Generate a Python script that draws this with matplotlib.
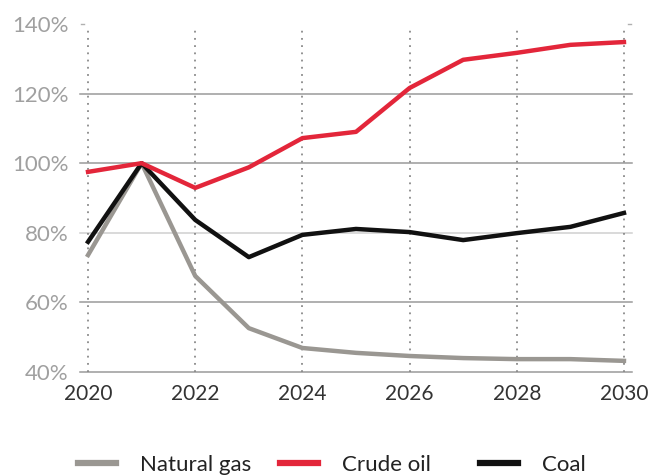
import matplotlib
matplotlib.use("Agg")
import matplotlib.pyplot as plt

years = [2020, 2021, 2022, 2023, 2024, 2025, 2026, 2027, 2028, 2029, 2030]
natural_gas = [73.6, 100, 67.6, 52.6, 46.9, 45.5, 44.6, 44.0, 43.7, 43.7, 43.2]
crude_oil = [97.5, 100, 92.9, 98.8, 107.2, 109.0, 121.6, 129.7, 131.7, 134.0, 134.8]
coal = [77.4, 100, 83.7, 73.0, 79.4, 81.1, 80.2, 77.9, 79.9, 81.7, 85.7]
x_ticks = [2020, 2022, 2024, 2026, 2028, 2030]
y_ticks = [40, 60, 80, 100, 120, 140]
y_labels = ["40%", "60%", "80%", "100%", "120%", "140%"]

plt.rcParams['font.family'] = ['Lato', 'DejaVu Sans']
plt.rcParams['axes.grid'] = False

fig = plt.figure(figsize=(6.51, 4.75), dpi=100)
ax = fig.add_axes([80/651, 1-372/475, 552/651, 355/475])
ax.set_xlim(2019.85, 2030.15)
ax.set_ylim(40, 142)
ax.grid(False)
ax.patch.set_visible(False)

for s in ax.spines.values():
    s.set_visible(False)

# horizontal gridlines
for yv in [40, 60, 80, 100, 120]:
    col = '#cfcfcf' if yv == 80 else '#9a9a9a'
    ax.axhline(yv, color=col, lw=1.1, zorder=1, clip_on=False)
# short marks at the top value on both sides
ax.plot([2019.87, 2019.93], [140, 140], color='#b0b0b0', lw=1.0, clip_on=False)
ax.plot([2030.07, 2030.13], [140, 140], color='#b0b0b0', lw=1.0, clip_on=False)
# vertical dotted lines
for xv in x_ticks:
    ax.plot([xv, xv], [40, 139.5], color='#8a8a8a', lw=1.3, ls=(0, (1, 3)), zorder=1, clip_on=False)

c_gas = '#9a9792'
c_oil = '#e3263a'
c_coal = '#111111'
l1, = ax.plot(years, natural_gas, color=c_gas, lw=3.2, zorder=3, label='Natural gas', clip_on=False)
l2, = ax.plot(years, crude_oil, color=c_oil, lw=3.2, zorder=4, label='Crude oil', clip_on=False)
l3, = ax.plot(years, coal, color=c_coal, lw=3.2, zorder=3, label='Coal', clip_on=False)

ax.set_xticks(x_ticks)
ax.set_xticklabels([str(v) for v in x_ticks], fontsize=15, color='#333333')
ax.set_yticks(y_ticks)
ax.set_yticklabels(y_labels, fontsize=16, color='#a0a0a0')
ax.tick_params(axis='x', length=0, pad=9)
ax.tick_params(axis='y', length=0, pad=8)

for h, x0 in zip([l1, l2, l3], [78, 280, 480]):
    leg = fig.legend([h], [h.get_label()], loc='center left',
                     bbox_to_anchor=(x0/651, 1-465/475), frameon=False, fontsize=16,
                     handlelength=1.7, handletextpad=1.1, borderpad=0, borderaxespad=0)
    for t in leg.get_texts():
        t.set_color('#222222')
    for l in leg.get_lines():
        l.set_linewidth(4.5)

fig.savefig('out.png', dpi=100)
